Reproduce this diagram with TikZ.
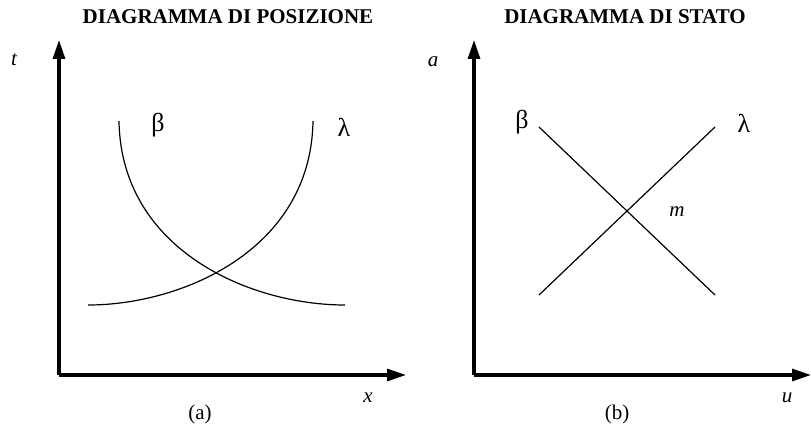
\documentclass[tikz,border=0pt]{standalone}
\usepackage{fontspec}
\setmainfont{Liberation Serif}
\usetikzlibrary{arrows.meta}
\begin{document}
\begin{tikzpicture}[x=1pt,y=-1pt,
  axis/.style={line width=3.2pt,-{Triangle[length=19pt,width=12pt]}},
  curve/.style={line width=1.2pt},
  title/.style={font=\bfseries\fontsize{21}{24}\selectfont},
  lab/.style={font=\itshape\fontsize{21}{24}\selectfont},
  greek/.style={font=\fontsize{26}{28}\selectfont},
  captxt/.style={font=\fontsize{21}{24}\selectfont}]
\useasboundingbox (0,0) rectangle (811,428);
% ---- left panel
\coordinate (oA) at (59,375);
\coordinate (yA) at (59,40);
\coordinate (xA) at (406,375);
\draw[axis] (oA) -- (yA);
\draw[axis] (oA) -- (xA);
\node[title] (tA) at (228,17) {DIAGRAMMA DI POSIZIONE};
\node[lab] (lt) at (14,60) {t};
\node[lab] (lx) at (368,398) {x};
\node[captxt] (ca) at (200,414) {(a)};
\coordinate (b1) at (119,121);
\coordinate (b2) at (345,305);
\coordinate (l1) at (88,305);
\coordinate (l2) at (313,121);
\draw[curve] (b1) .. controls (121,250) and (250,305) .. (b2);
\draw[curve] (l1) .. controls (182,305) and (311,250) .. (l2);
\node[greek] (gbA) at (158,125) {β};
\node[greek] (glA) at (344,127) {λ};
% ---- right panel
\coordinate (oB) at (474,375);
\coordinate (yB) at (474,40);
\coordinate (xB) at (811,375);
\draw[axis] (oB) -- (yB);
\draw[axis] (oB) -- (xB);
\node[title] (tB) at (625,17) {DIAGRAMMA DI STATO};
\node[lab] (la) at (433,62) {a};
\node[lab] (lu) at (787,398) {u};
\node[captxt] (cb) at (617,414) {(b)};
\coordinate (p1) at (539,127);
\coordinate (p2) at (715,295);
\coordinate (q1) at (539,295);
\coordinate (q2) at (715,127);
\draw[curve] (p1) -- (p2);
\draw[curve] (q1) -- (q2);
\node[lab] (lm) at (677,212) {m};
\node[greek] (gbB) at (522,122) {β};
\node[greek] (glB) at (744,123) {λ};
\end{tikzpicture}
\end{document}
